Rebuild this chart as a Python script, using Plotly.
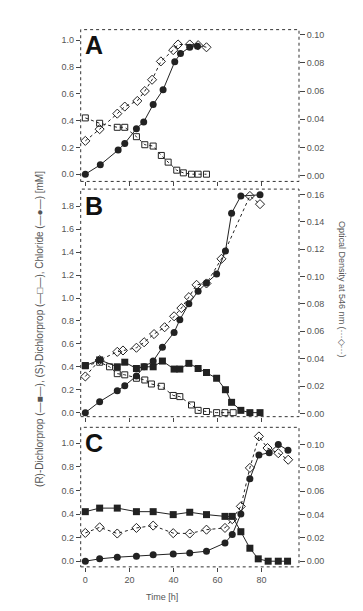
import plotly.graph_objects as go

# ---------------- Data ----------------
# Panel A
a_cl_t = [0, 6.8, 14.9, 17.9, 23.2, 26.5, 30.8, 35.3, 40.6, 43.2, 47.4, 50.9]
a_cl_v = [0.0, 0.07, 0.18, 0.23, 0.34, 0.39, 0.52, 0.63, 0.84, 0.90, 0.948, 0.955]
a_s_t = [0, 6.5, 14.5, 17.9, 23.2, 27, 30.8, 34.5, 37.6, 41.5, 44.5, 48.2, 51.2, 55]
a_s_v = [0.42, 0.38, 0.35, 0.35, 0.28, 0.22, 0.21, 0.14, 0.09, 0.03, 0.01, 0.0, 0.0, 0.0]
a_od_t = [0, 6.5, 14.5, 17.9, 23.6, 27, 30.3, 34.3, 39.9, 42.1, 47.4, 51.2, 55]
a_od_v = [0.0247, 0.033, 0.044, 0.049, 0.053, 0.060, 0.068, 0.081, 0.089, 0.093, 0.093, 0.0925, 0.091]

# Panel B
b_cl_t = [0, 6.5, 14.5, 17.9, 23.2, 26.7, 30.8, 35, 40.3, 42.9, 47, 51.2, 55, 59.6, 63.6, 66.4, 70.6, 79.3]
b_cl_v = [0.0, 0.096, 0.19, 0.235, 0.32, 0.40, 0.45, 0.57, 0.70, 0.81, 0.95, 1.06, 1.13, 1.21, 1.41, 1.74, 1.89, 1.90]
b_r_t = [0, 6.5, 14.5, 17.9, 23.2, 26.7, 30.8, 35, 40.3, 42.9, 47, 51.2, 55, 59.6, 63.6, 66.4, 70.6, 74.7, 79.3]
b_r_v = [0.41, 0.46, 0.40, 0.44, 0.385, 0.40, 0.40, 0.45, 0.38, 0.38, 0.43, 0.385, 0.35, 0.30, 0.20, 0.09, 0.02, 0.0, 0.0]
b_s_t = [0, 6.5, 11, 14.5, 17.9, 23.2, 27, 30, 34.5, 39.9, 42.9, 48.2, 51.2, 55, 59.6, 63.4, 67.1]
b_s_v = [0.41, 0.44, 0.40, 0.34, 0.33, 0.30, 0.285, 0.25, 0.23, 0.15, 0.14, 0.067, 0.02, 0.01, 0.0, 0.0, 0.0]
b_od_t = [0, 6.5, 14.5, 17.1, 23.2, 26.7, 31.2, 36, 40.3, 43.6, 47, 50.5, 55, 61.8, 74.7, 79.3]
b_od_v = [0.027, 0.039, 0.045, 0.046, 0.048, 0.052, 0.058, 0.063, 0.071, 0.077, 0.085, 0.094, 0.095, 0.113, 0.159, 0.153]

# Panel C
c_cl_t = [0, 6.5, 14.5, 23.2, 30.8, 39.9, 47.4, 55, 63.4, 66.7, 70.6, 74.7, 78.8, 83.5, 87.6, 92]
c_cl_v = [0.0, 0.02, 0.034, 0.042, 0.054, 0.062, 0.07, 0.085, 0.155, 0.226, 0.40, 0.70, 0.90, 0.92, 0.99, 0.94]
c_r_t = [0, 6.5, 14.5, 23.2, 30.8, 39.9, 47.4, 55, 63.4, 66.7, 70.6, 74.7, 78.5, 83, 87.6, 91.8]
c_r_v = [0.42, 0.45, 0.45, 0.42, 0.42, 0.395, 0.415, 0.395, 0.38, 0.38, 0.25, 0.11, 0.02, 0.0, 0.0, 0.0]
c_od_t = [0, 6.5, 14.5, 23.2, 30.8, 39.9, 47.4, 55, 63.4, 66.7, 70.6, 74.7, 78.8, 82.7, 87.6, 92.1]
c_od_v = [0.0242, 0.029, 0.0237, 0.0285, 0.0305, 0.024, 0.0237, 0.027, 0.0285, 0.036, 0.047, 0.080, 0.107, 0.097, 0.0926, 0.087]

x_ticks = [0, 20, 40, 60, 80]
left_ticks_a = [0.0, 0.2, 0.4, 0.6, 0.8, 1.0]
left_ticks_b = [0.0, 0.2, 0.4, 0.6, 0.8, 1.0, 1.2, 1.4, 1.6, 1.8]
left_ticks_c = [0.0, 0.2, 0.4, 0.6, 0.8, 1.0]
right_ticks_a = [0.00, 0.02, 0.04, 0.06, 0.08, 0.10]
right_ticks_b = [0.00, 0.02, 0.04, 0.06, 0.08, 0.10, 0.12, 0.14, 0.16]
right_ticks_c = [0.00, 0.02, 0.04, 0.06, 0.08, 0.10]

# ---------------- Styles ----------------
W, H = 363, 611
INK = "#222"


def sty(kind):
    if kind == "cl":
        return dict(mode="lines+markers", line=dict(color=INK, width=1),
                    marker=dict(symbol="circle", size=7, color=INK))
    if kind == "r":
        return dict(mode="lines+markers", line=dict(color=INK, width=1),
                    marker=dict(symbol="square", size=7, color=INK))
    if kind == "s":
        return dict(mode="lines+markers", line=dict(color=INK, width=1, dash="dot"),
                    marker=dict(symbol="square-open", size=6, color=INK, line=dict(width=1)))
    return dict(mode="lines+markers", line=dict(color=INK, width=1, dash="dot"),
                marker=dict(symbol="diamond-open", size=7, color=INK, line=dict(width=1)))


fig = go.Figure()


def add(t, v, kind, xa, ya):
    fig.add_trace(go.Scatter(x=t, y=v, xaxis=xa, yaxis=ya, showlegend=False,
                             cliponaxis=False, **sty(kind)))


# A
add(a_s_t, a_s_v, "s", "x", "y")
add(a_od_t, a_od_v, "od", "x", "y2")
add(a_cl_t, a_cl_v, "cl", "x", "y")
# B
add(b_s_t, b_s_v, "s", "x2", "y3")
add(b_od_t, b_od_v, "od", "x2", "y4")
add(b_r_t, b_r_v, "r", "x2", "y3")
add(b_cl_t, b_cl_v, "cl", "x2", "y3")
# C
add(c_od_t, c_od_v, "od", "x3", "y6")
add(c_r_t, c_r_v, "r", "x3", "y5")
add(c_cl_t, c_cl_v, "cl", "x3", "y5")

xdom = [72.7 / W, 291 / W]


def ydom(top, bot):
    return [1 - bot / H, 1 - top / H]


domA = ydom(21.7, 174)
domB = ydom(181.7, 410)
domC = ydom(420.7, 560.7)

tickfont = dict(family="Liberation Sans, Arial, sans-serif", size=9, color="#555")
xr = [-2.1, 97]


def xaxis(anchor, labels):
    return dict(domain=xdom, anchor=anchor, range=xr, tickvals=x_ticks,
                showticklabels=labels, ticks="outside", ticklen=4, tickwidth=1,
                tickcolor="#444", showgrid=False, zeroline=False, showline=False,
                tickfont=tickfont)


def yleft(dom, rng, tv, anchor):
    return dict(domain=dom, anchor=anchor, range=rng, tickvals=tv,
                ticktext=["%.1f" % v for v in tv], ticks="outside", ticklen=4,
                tickwidth=1, tickcolor="#444", showgrid=False, zeroline=False,
                showline=False, tickfont=tickfont)


def yright(over, rng, tv, anchor):
    return dict(overlaying=over, side="right", anchor=anchor, range=rng, tickvals=tv,
                ticktext=["%.2f" % v for v in tv], ticks="outside", ticklen=5,
                tickwidth=1, tickcolor="#444", showgrid=False, zeroline=False,
                showline=False, tickfont=tickfont)


fig.update_layout(
    width=W, height=H, margin=dict(l=0, r=0, t=0, b=0),
    paper_bgcolor="white", plot_bgcolor="white",
    xaxis=xaxis("y", False),
    xaxis2=xaxis("y3", False),
    xaxis3=xaxis("y5", True),
    yaxis=yleft(domA, [-0.054, 1.079], left_ticks_a, "x"),
    yaxis2=yright("y", [-0.004, 0.1035], right_ticks_a, "x"),
    yaxis3=yleft(domB, [-0.035, 1.95], left_ticks_b, "x2"),
    yaxis4=yright("y3", [-0.0024, 0.164], right_ticks_b, "x2"),
    yaxis5=yleft(domC, [-0.048, 1.135], left_ticks_c, "x3"),
    yaxis6=yright("y5", [-0.0049, 0.1148], right_ticks_c, "x3"),
)

# dotted frames
for xa, ya in [("x", "y"), ("x2", "y3"), ("x3", "y5")]:
    fig.add_shape(type="rect", xref=xa + " domain", yref=ya + " domain",
                  x0=0, x1=1, y0=0, y1=1, line=dict(color="#333", width=1, dash="dot"),
                  layer="above")

# panel letters
for letter, py in [("A", 37.5), ("B", 198.5), ("C", 436.5)]:
    fig.add_annotation(text="<b>%s</b>" % letter, xref="paper", yref="paper",
                       x=86 / W, y=1 - py / H, xanchor="center", yanchor="middle",
                       showarrow=False,
                       font=dict(family="Liberation Sans, Arial, sans-serif", size=25, color="#111"))

fig.add_annotation(text="(R)-Dichlorprop (—■—), (S)-Dichlorprop (—□—), Chloride (—●—) [mM]",
                   xref="paper", yref="paper", x=32 / W, y=1 - 322 / H, textangle=-90,
                   xanchor="center", yanchor="middle", showarrow=False,
                   font=dict(family="Liberation Sans, Arial, sans-serif", size=10, color="#555"))
fig.add_annotation(text="Optical Density at 546 nm (···◇···)",
                   xref="paper", yref="paper", x=334 / W, y=1 - 282 / H, textangle=90,
                   xanchor="center", yanchor="middle", showarrow=False,
                   font=dict(family="Liberation Sans, Arial, sans-serif", size=9, color="#555"))
fig.add_annotation(text="Time [h]", xref="paper", yref="paper", x=154 / W, y=1 - 591 / H,
                   xanchor="center", yanchor="middle", showarrow=False,
                   font=dict(family="Liberation Sans, Arial, sans-serif", size=9, color="#555"))

fig.write_html("out.html")
